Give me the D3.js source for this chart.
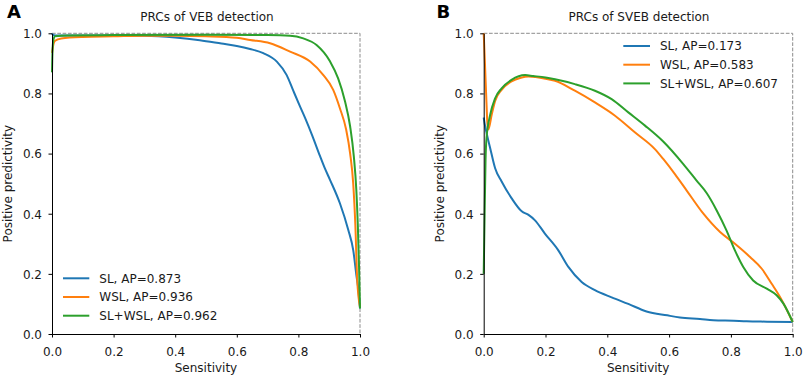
<!DOCTYPE html>
<html>
<head>
<meta charset="utf-8">
<script src="https://cdn.jsdelivr.net/npm/d3@7"></script>
<style>
  html, body { margin: 0; padding: 0; background: #fff; }
  svg { display: block; font-family: "DejaVu Sans", sans-serif; }
</style>
</head>
<body>
<svg id="chart" width="803" height="377"></svg>
<script>
// ---------------- DATA ----------------
const panelLetters = ["A", "B"];
const panelTitles = ["PRCs of VEB detection", "PRCs of SVEB detection"];
const seriesNames = ["SL", "WSL", "SL+WSL"];
const apVEB = ["0.873", "0.936", "0.962"];
const apSVEB = ["0.173", "0.583", "0.607"];
const tickValues = [0.0, 0.2, 0.4, 0.6, 0.8, 1.0];
const xLabel = "Sensitivity";
const yLabel = "Positive predictivity";
const refLine = [[0, 1], [1, 1], [1, 0]];

// Panel A (VEB)
const veb_SL_s = [0, 0.003, 0.01, 0.05, 0.1, 0.2, 0.3, 0.4, 0.48, 0.55, 0.6, 0.643, 0.686, 0.73, 0.762, 0.783, 0.803, 0.822, 0.845, 0.87, 0.885, 0.903, 0.935, 0.962, 0.978, 0.989, 0.995, 1.0];
const veb_SL_p = [1.0, 0.995, 0.993, 0.993, 0.993, 0.993, 0.992, 0.986, 0.977, 0.966, 0.958, 0.948, 0.934, 0.906, 0.861, 0.810, 0.762, 0.718, 0.660, 0.592, 0.553, 0.512, 0.434, 0.346, 0.279, 0.190, 0.146, 0.085];

const veb_WSL_s = [0, 0.002, 0.005, 0.01, 0.03, 0.1, 0.2, 0.3, 0.4, 0.5, 0.6, 0.643, 0.708, 0.773, 0.838, 0.881, 0.913, 0.935, 0.955, 0.968, 0.978, 0.985, 0.991, 1.0];
const veb_WSL_p = [0.935, 0.948, 0.965, 0.975, 0.983, 0.988, 0.990, 0.992, 0.992, 0.990, 0.985, 0.978, 0.967, 0.939, 0.906, 0.861, 0.812, 0.750, 0.680, 0.600, 0.500, 0.360, 0.180, 0.090];

const veb_SLWSL_s = [0, 0.002, 0.005, 0.01, 0.05, 0.2, 0.5, 0.7, 0.773, 0.816, 0.859, 0.903, 0.929, 0.951, 0.968, 0.980, 0.988, 0.993, 0.997, 1.0];
const veb_SLWSL_p = [0.87, 0.95, 0.98, 0.99, 0.993, 0.994, 0.995, 0.994, 0.992, 0.983, 0.961, 0.906, 0.850, 0.775, 0.690, 0.590, 0.480, 0.360, 0.220, 0.085];

// Panel B (SVEB)
const sveb_SL_s = [0, 0.003, 0.01, 0.021, 0.037, 0.058, 0.09, 0.123, 0.145, 0.166, 0.198, 0.241, 0.274, 0.317, 0.36, 0.414, 0.468, 0.527, 0.594, 0.635, 0.70, 0.743, 0.809, 0.851, 0.917, 1.0];
const sveb_SL_p = [0.72, 0.70, 0.665, 0.618, 0.551, 0.507, 0.452, 0.408, 0.396, 0.378, 0.334, 0.279, 0.223, 0.173, 0.146, 0.122, 0.100, 0.075, 0.062, 0.055, 0.050, 0.046, 0.044, 0.042, 0.041, 0.040];

const sveb_WSL_s = [0, 0.004, 0.008, 0.012, 0.015, 0.026, 0.037, 0.058, 0.09, 0.12, 0.145, 0.2, 0.231, 0.295, 0.36, 0.425, 0.49, 0.554, 0.581, 0.62, 0.657, 0.711, 0.765, 0.813, 0.862, 0.90, 0.932, 0.959, 1.0];
const sveb_WSL_p = [1.0, 0.90, 0.795, 0.70, 0.68, 0.73, 0.775, 0.812, 0.840, 0.852, 0.856, 0.849, 0.842, 0.809, 0.770, 0.726, 0.670, 0.615, 0.582, 0.530, 0.477, 0.400, 0.339, 0.300, 0.256, 0.217, 0.167, 0.123, 0.040];

const sveb_SLWSL_s = [0, 0.003, 0.006, 0.009, 0.021, 0.037, 0.058, 0.09, 0.134, 0.16, 0.2, 0.231, 0.295, 0.36, 0.414, 0.468, 0.522, 0.581, 0.646, 0.689, 0.722, 0.754, 0.786, 0.813, 0.84, 0.872, 0.916, 0.948, 0.97, 1.0];
const sveb_SLWSL_p = [0.2, 0.4, 0.58, 0.651, 0.729, 0.784, 0.817, 0.845, 0.861, 0.858, 0.853, 0.847, 0.831, 0.809, 0.781, 0.737, 0.693, 0.640, 0.565, 0.510, 0.468, 0.411, 0.344, 0.278, 0.223, 0.178, 0.151, 0.129, 0.101, 0.040];

const colors = ["#1f77b4", "#ff7f0e", "#2ca02c"];

// ---------------- LAYOUT ----------------
const svg = d3.select("#chart");
const panels = [
  { x0: 52, x1: 360, series: [[veb_SL_s, veb_SL_p], [veb_WSL_s, veb_WSL_p], [veb_SLWSL_s, veb_SLWSL_p]], ap: apVEB,
    legend: { lx0: 63, lx1: 89.3, tx: 99.3, y0: 278.3 }, letterX: 7, titleX: 207, ylabX: 11.5 },
  { x0: 483.7, x1: 792.7, series: [[sveb_SL_s, sveb_SL_p], [sveb_WSL_s, sveb_WSL_p], [sveb_SLWSL_s, sveb_SLWSL_p]], ap: apSVEB,
    legend: { lx0: 623.3, lx1: 650, tx: 660, y0: 46 }, letterX: 436.5, titleX: 639, ylabX: 443.5 }
];
const yTop = 33.3, yBot = 334;
const fmt = d3.format(".1f");

panels.forEach((pn, i) => {
  const x = d3.scaleLinear().domain([0, 1]).range([pn.x0, pn.x1]);
  const y = d3.scaleLinear().domain([0, 1]).range([yBot, yTop]);
  const g = svg.append("g");

  // reference dashed line
  g.append("path")
    .datum(refLine)
    .attr("d", d3.line().x(d => x(d[0])).y(d => y(d[1])))
    .attr("fill", "none")
    .attr("stroke", "#8c8c8c")
    .attr("stroke-width", 1)
    .attr("stroke-dasharray", "3.7,1.6");

  // curves
  const line = d3.line().x(d => x(d[0])).y(d => y(d[1])).curve(d3.curveMonotoneX);
  pn.series.forEach((s, k) => {
    const pts = s[0].map((v, j) => [v, s[1][j]]);
    g.append("path")
      .datum(pts)
      .attr("d", line)
      .attr("fill", "none")
      .attr("stroke", colors[k])
      .attr("stroke-width", 2)
      .attr("stroke-linejoin", "round")
      .attr("stroke-linecap", "butt");
  });

  // axes
  const xa = g.append("g").attr("transform", `translate(0,${yBot})`)
    .call(d3.axisBottom(x).tickValues(tickValues).tickFormat(fmt).tickSize(3.5).tickSizeOuter(0).tickPadding(3.5));
  const ya = g.append("g").attr("transform", `translate(${pn.x0},0)`)
    .call(d3.axisLeft(y).tickValues(tickValues).tickFormat(fmt).tickSize(3.5).tickSizeOuter(0).tickPadding(6.5));
  [xa, ya].forEach(a => {
    a.select(".domain").attr("stroke", "#000").attr("stroke-width", 1);
    a.selectAll(".tick line").attr("stroke", "#000").attr("stroke-width", 1);
    a.selectAll(".tick text").attr("fill", "#1a1a1a").attr("font-size", 12)
      .attr("font-family", "DejaVu Sans, sans-serif");
  });
  xa.selectAll(".tick text").attr("dy", null).attr("y", 21.5);
  ya.selectAll(".tick text").attr("dy", "0.36em");

  // axis labels
  g.append("text").attr("x", (pn.x0 + pn.x1) / 2).attr("y", 371.5)
    .attr("text-anchor", "middle").attr("font-size", 12).attr("fill", "#1a1a1a").text(xLabel);
  g.append("text").attr("transform", `translate(${pn.ylabX},${(yTop + yBot) / 2}) rotate(-90)`)
    .attr("text-anchor", "middle").attr("font-size", 12).attr("fill", "#1a1a1a").text(yLabel);

  // title
  g.append("text").attr("x", pn.titleX).attr("y", 20.5)
    .attr("text-anchor", "middle").attr("font-size", 12).attr("fill", "#1a1a1a").text(panelTitles[i]);

  // panel letter
  g.append("text").attr("x", pn.letterX).attr("y", 18.3)
    .attr("font-size", 18).attr("font-weight", "bold").attr("fill", "#000").text(panelLetters[i]);

  // legend
  seriesNames.forEach((nm, k) => {
    const ly = pn.legend.y0 + k * 18.7;
    g.append("line").attr("x1", pn.legend.lx0).attr("x2", pn.legend.lx1)
      .attr("y1", ly).attr("y2", ly).attr("stroke", colors[k]).attr("stroke-width", 2);
    g.append("text").attr("x", pn.legend.tx).attr("y", ly + 4.4)
      .attr("font-size", 12).attr("fill", "#1a1a1a").text(`${nm}, AP=${pn.ap[k]}`);
  });
});
</script>
</body>
</html>
